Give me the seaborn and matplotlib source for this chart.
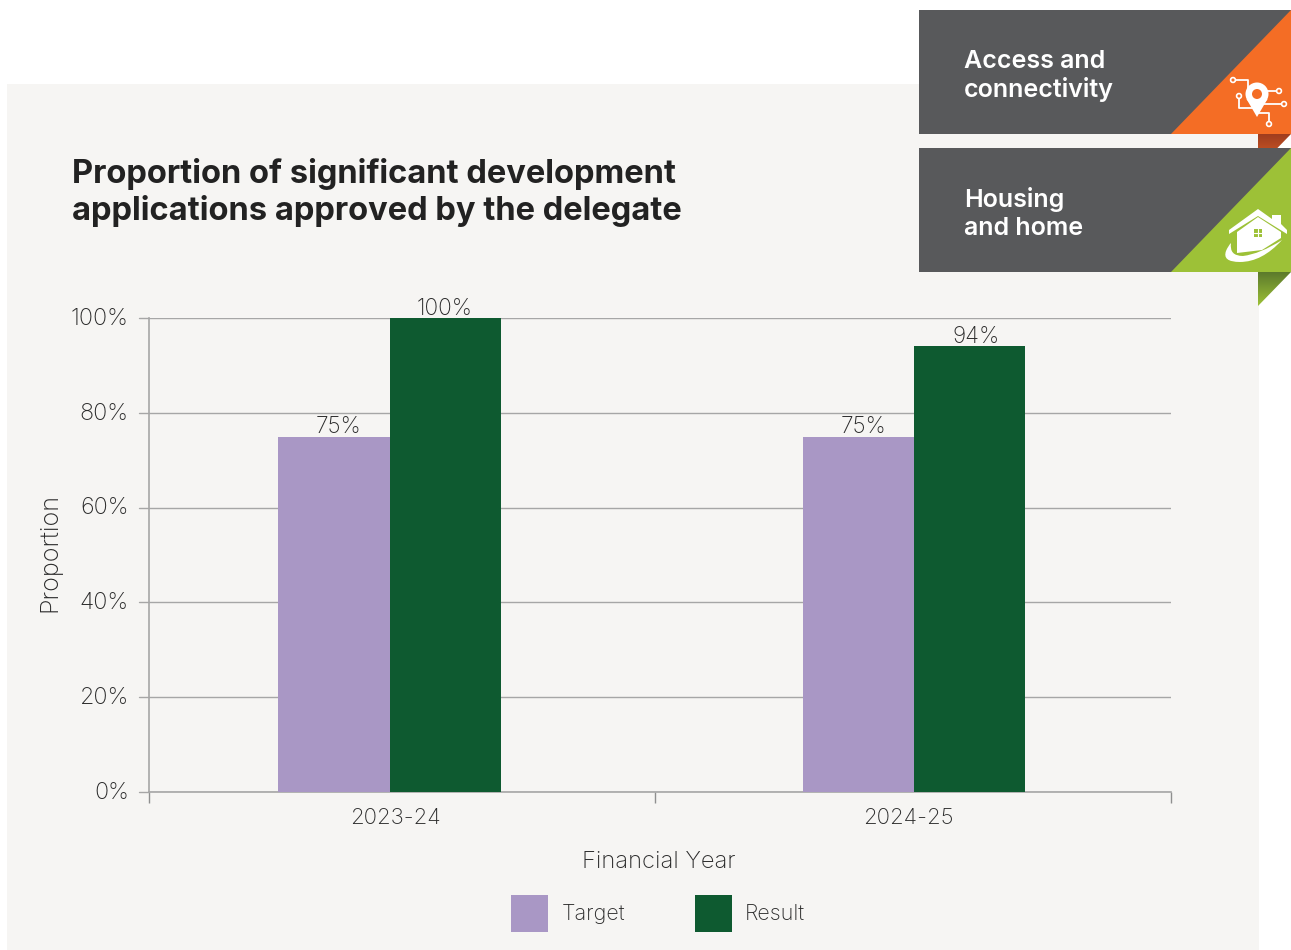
import numpy as np
import pandas as pd
import matplotlib
matplotlib.use("Agg")
import matplotlib.pyplot as plt
from matplotlib.patches import Polygon, Rectangle, Circle, PathPatch
from matplotlib.path import Path
from matplotlib.transforms import ScaledTranslation
import seaborn as sns

years = ["2023-24", "2024-25"]
target = [75, 75]
result = [100, 94]
target_labels = ["75%", "75%"]
result_labels = ["100%", "94%"]
y_ticks = [0, 20, 40, 60, 80, 100]
title = "Proportion of significant development\napplications approved by the delegate"
banner_one = ["Access and", "connectivity"]
banner_two = ["Housing", "and home"]

W, H = 1291, 950
PANEL = "#f6f5f3"
LILAC = "#a997c5"
GREEN = "#0e5a30"
GRID = "#a6a6a6"
INK = "#2b2b2b"
SLATE = "#58595b"
ORANGE = "#f46d25"
LIME = "#9dc137"
FONT = "Inter"

sns.set_theme(style="white")
plt.rcParams["font.family"] = [FONT, "DejaVu Sans"]
plt.rcParams["font.weight"] = "light"

fig = plt.figure(figsize=(W / 100, H / 100), dpi=100, facecolor="white")


def rect_axes(l, t, r, b, **kw):
    return fig.add_axes([l / W, 1 - b / H, (r - l) / W, (b - t) / H], **kw)


# Page layer in pixel coordinates, behind the plot
page = rect_axes(0, 0, W, H, zorder=0)
page.set_xlim(0, W)
page.set_ylim(H, 0)
page.axis("off")
page.add_patch(Rectangle((7, 84), 1252, 866, fc=PANEL, ec="none"))

# Grouped bars
ax = rect_axes(149, 318, 1171, 792, zorder=2)
ax.patch.set_alpha(0)
df = pd.DataFrame({
    "year": years * 2,
    "series": ["Target"] * 2 + ["Result"] * 2,
    "value": target + result,
})
sns.barplot(data=df, x="year", y="value", hue="series", ax=ax,
            palette={"Target": LILAC, "Result": GREEN},
            width=0.4233, gap=0, saturation=1, dodge=True, errorbar=None,
            linewidth=0, edgecolor="none", zorder=3)

px_per_cat = 524.5
ax.set_xlim((149 - 389.5) / px_per_cat, 1 + (1171 - 914) / px_per_cat)
ax.set_ylim(0, 100)


def px_to_x(p):
    return (p - 389.5) / px_per_cat


ax.set_yticks(y_ticks)
ax.set_yticklabels([f"{v}%" for v in y_ticks], fontsize=16.8, color=INK)
ax.tick_params(axis="y", length=0, pad=14.5)
nudge = ScaledTranslation(0, 1.2 / 72, fig.dpi_scale_trans)
for lab in ax.get_yticklabels():
    lab.set_transform(lab.get_transform() + nudge)
ax.grid(axis="y", color=GRID, lw=1.0, zorder=1)
ax.set_axisbelow(True)

# Category boundaries carry the tick marks, labels sit on minor ticks
ax.set_xticks([px_to_x(149), px_to_x(655), px_to_x(1171)])
ax.set_xticklabels([])
ax.tick_params(axis="x", which="major", length=8, width=1, color="#8f8f8f", bottom=True)
ax.set_xticks([px_to_x(395), px_to_x(908)], minor=True)
ax.set_xticklabels(years, minor=True, fontsize=15.9, color=INK)
ax.tick_params(axis="x", which="minor", length=0, bottom=False, pad=11.5)

for side in ("top", "right"):
    ax.spines[side].set_visible(False)
for side in ("left", "bottom"):
    ax.spines[side].set_color(GRID)
    ax.spines[side].set_linewidth(1.2)

# Left axis stub ticks extend past the spine
for v in y_ticks:
    ax.plot([-10 / 1022, 0], [v, v], transform=ax.get_yaxis_transform(),
            color=GRID, lw=1.0, clip_on=False)

# Value labels, shifted sideways in points to clear the neighbouring bar
shifts = {"75%": 3.6, "100%": 0, "94%": 5}
for cont, labels in zip(ax.containers, (target_labels, result_labels)):
    for bar, lab in zip(cont, labels):
        ax.annotate(lab, (bar.get_x() + bar.get_width() / 2, bar.get_height()),
                    xytext=(shifts[lab], -1.2), textcoords="offset points",
                    ha="center", va="bottom", fontsize=16.3, color=INK,
                    annotation_clip=False, zorder=5)

ax.set_xlabel("")
ax.set_ylabel("")
fig.text(659 / W, 1 - 861.5 / H, "Financial Year", ha="center", va="center", fontsize=17.1, color=INK)
fig.text(50 / W, 1 - 553 / H, "Proportion", ha="center", va="center", rotation=90, fontsize=18.2, color=INK)

handles, labels = ax.get_legend_handles_labels()
if ax.legend_:
    ax.legend_.remove()
fig.legend(handles, labels, ncol=2, loc="center", bbox_to_anchor=(658 / W, 1 - 913.5 / H),
           frameon=False, fontsize=15.5, labelcolor=INK, handlelength=1.72, handleheight=2.2,
           handletextpad=0.6, columnspacing=3.25, borderpad=0)

fig.text(72 / W, 1 - 192.5 / H, title, ha="left", va="center", fontsize=23.5, fontweight="bold",
         color="#222222", linespacing=1.2)

# Banner layer on top of everything
top = rect_axes(0, 0, W, H, zorder=5)
top.set_xlim(0, W)
top.set_ylim(H, 0)
top.axis("off")
top.patch.set_alpha(0)


def fold(y0, dark, light):
    """Ribbon fold under a banner, shaded from dark at the crease to light."""
    grad = np.linspace(0, 1, 64)[:, None]
    c0, c1 = np.array(matplotlib.colors.to_rgb(dark)), np.array(matplotlib.colors.to_rgb(light))
    img = c0 + (c1 - c0) * grad[..., None]
    im = top.imshow(img, extent=(1258, 1291, y0 + 34, y0), aspect="auto", zorder=1)
    clip = Polygon([(1258, y0), (1291, y0), (1258, y0 + 34)], transform=top.transData, fc="none", ec="none")
    top.add_patch(clip)
    im.set_clip_path(clip)


fold(134, "#a03d1e", "#e0642a")
fold(272, "#5c7a2c", "#9dc137")
top.set_xlim(0, W)
top.set_ylim(H, 0)

for y0, accent, lines in ((10, ORANGE, banner_one), (148, LIME, banner_two)):
    top.add_patch(Rectangle((919, y0), 372, 124, fc=SLATE, ec="none", zorder=2))
    top.add_patch(Polygon([(1171, y0 + 124), (1291, y0), (1291, y0 + 124)], fc=accent, ec="none", zorder=3))
    for offset, line in zip((58.5, 87), lines):
        top.text(964, y0 + offset, line, ha="left", va="baseline", color="white", fontsize=18,
                 fontweight="semibold", zorder=4)

# Location pin with circuit traces
WHITE = dict(color="white", lw=1.3, zorder=4, solid_capstyle="round")
traces = [
    [(1233, 80), (1248, 80), (1248, 90)],
    [(1279, 91), (1267, 91)],
    [(1284, 104), (1263, 104)],
    [(1239, 96), (1239, 108), (1253, 108)],
    [(1269, 124), (1269, 113), (1258, 113)],
]
for tr in traces:
    xs, ys = zip(*tr)
    top.plot(xs, ys, **WHITE)
    top.add_patch(Circle(tr[0], 2.4, fc=ORANGE, ec="white", lw=1.2, zorder=5))
top.add_patch(Circle((1257, 94), 11.5, fc="white", ec="none", zorder=5))
top.add_patch(Polygon([(1246.5, 99), (1267.5, 99), (1257, 117)], fc="white", ec="none", zorder=5))
top.add_patch(Circle((1257, 94), 5, fc=ORANGE, ec="none", zorder=6))

# House with swoosh
top.add_patch(Polygon([(1258, 209), (1272, 219), (1272, 215), (1281, 215), (1281, 224), (1287, 230),
                       (1287, 234), (1258, 216), (1229, 234), (1229, 230)], fc="white", ec="none", zorder=4))
top.add_patch(Polygon([(1237, 232), (1258, 217), (1281, 232), (1281, 238), (1262, 250), (1237, 253)],
                      fc="white", ec="none", zorder=4))
top.add_patch(Rectangle((1254, 229), 8, 8, fc=LIME, ec="none", zorder=5))
top.plot([1258, 1258], [229, 237], color="white", lw=0.8, zorder=6)
top.plot([1254, 1262], [233, 233], color="white", lw=0.8, zorder=6)
swoosh = Path([(1282, 240), (1262, 262), (1240, 262), (1222, 262), (1226, 251), (1228, 246), (1231, 243),
               (1229, 256), (1243, 256), (1260, 254), (1282, 240)],
              [Path.MOVETO] + [Path.CURVE3] * 10)
top.add_patch(PathPatch(swoosh, fc="white", ec="none", zorder=4))

fig.savefig("out.png", dpi=100, facecolor="white")
